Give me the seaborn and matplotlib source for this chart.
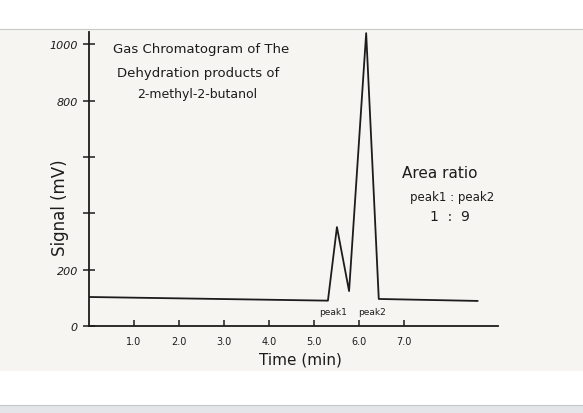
import matplotlib
matplotlib.use("Agg")
import pandas as pd
import matplotlib.pyplot as plt
import seaborn as sns
from matplotlib.patches import Rectangle

# trace: time (min) vs signal (mV)
time_min = [0.0, 5.31, 5.51, 5.78, 6.16, 6.44, 8.64]
signal_mv = [103, 90, 351, 124, 1039, 96, 89]

x_ticks = [1.0, 2.0, 3.0, 4.0, 5.0, 6.0, 7.0]
x_tick_labels = ["1.0", "2.0", "3.0", "4.0", "5.0", "6.0", "7.0"]
y_ticks = [0, 200, 400, 600, 800, 1000]
y_tick_labels = ["0", "200", "", "", "800", "1000"]

title_lines = ["Gas Chromatogram of The", "Dehydration products of", "2-methyl-2-butanol"]
peak_names = ["peak1", "peak2"]
ratio_lines = ["Area ratio", "peak1 : peak2", "1  :  9"]

df = pd.DataFrame({"Time (min)": time_min, "Signal (mV)": signal_mv})

sns.set_style("white")
plt.rcParams["font.family"] = ["DejaVu Sans"]

ink = "#1c1c1c"
fig = plt.figure(figsize=(5.83, 4.14), dpi=100)
fig.patch.set_facecolor("white")

# paper photo area and the grey strip at the bottom
fig.patches.append(Rectangle((0, 0.1014), 1, 0.8261, transform=fig.transFigure,
                             facecolor="#f6f5f2", edgecolor="none", zorder=-10))
fig.add_artist(plt.Line2D([0, 1], [0.9275, 0.9275], transform=fig.transFigure,
                          color="#c9c9c9", lw=0.8))
fig.patches.append(Rectangle((0, 0), 1, 0.019, transform=fig.transFigure,
                             facecolor="#e3e5e9", edgecolor="none", zorder=-10))
fig.add_artist(plt.Line2D([0, 1], [0.019, 0.019], transform=fig.transFigure,
                          color="#c3c7cd", lw=0.8))

ax = fig.add_axes([0.1527, 0.2101, 0.7015, 0.7101])
ax.set_facecolor("none")

sns.lineplot(data=df, x="Time (min)", y="Signal (mV)", ax=ax,
             color=ink, lw=1.3, estimator=None, sort=False)

ax.set_xlim(0, 9.09)
ax.set_ylim(0, 1043)

for side in ["top", "right"]:
    ax.spines[side].set_visible(False)
for side in ["left", "bottom"]:
    ax.spines[side].set_color(ink)
    ax.spines[side].set_linewidth(1.3)

ax.set_xticks(x_ticks)
ax.set_xticklabels(x_tick_labels, fontsize=7, color=ink)
ax.set_yticks(y_ticks)
ax.set_yticklabels(y_tick_labels, fontsize=8, color=ink, style="italic")
ax.tick_params(axis="x", bottom=True, direction="in", length=4, width=1.1,
               colors=ink, pad=7)
ax.tick_params(axis="y", left=True, direction="inout", length=8, width=1.1,
               colors=ink, pad=4)

ax.set_xlabel("Time (min)", fontsize=11, color=ink)
ax.set_ylabel("Signal (mV)", fontsize=12, color=ink)
ax.xaxis.set_label_coords(0.516, -0.085)
ax.yaxis.set_label_coords(-0.05, 0.405)

# handwritten title block
ax.text(0.53, 986, title_lines[0], fontsize=9.5, color=ink, va="center", ha="left")
ax.text(0.62, 901, title_lines[1], fontsize=9.5, color=ink, va="center", ha="left")
ax.text(1.07, 826, title_lines[2], fontsize=9, color=ink, va="center", ha="left")

# peak labels under the trace
ax.text(5.42, 50, peak_names[0], fontsize=6.5, color=ink, ha="center", va="center")
ax.text(6.29, 50, peak_names[1], fontsize=6.5, color=ink, ha="center", va="center")

# area ratio note
ax.text(7.8, 546, ratio_lines[0], fontsize=11, color=ink, ha="center", va="center")
ax.text(8.07, 461, ratio_lines[1], fontsize=8.5, color=ink, ha="center", va="center")
ax.text(8.02, 390, ratio_lines[2], fontsize=10, color=ink, ha="center", va="center")

fig.savefig("out.png", dpi=100)
